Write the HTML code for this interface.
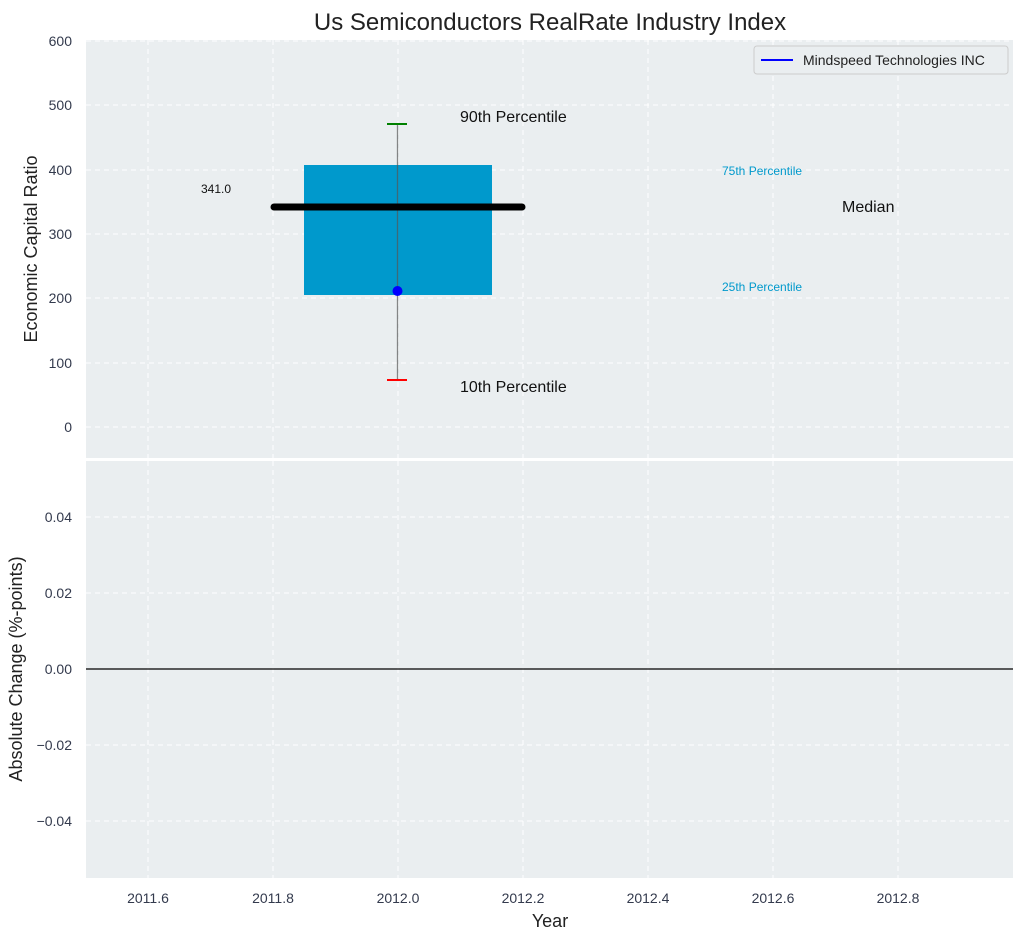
<!DOCTYPE html>
<html><head><meta charset="utf-8"><style>
body{margin:0;background:#fff;}
svg text{font-family:"Liberation Sans","DejaVu Sans",sans-serif;}
</style></head><body>
<svg width="1025" height="940" xmlns="http://www.w3.org/2000/svg">
<rect width="1025" height="940" fill="#fff"/>
<text x="550" y="30" font-size="24" text-anchor="middle" fill="#222">Us Semiconductors RealRate Industry Index</text>
<!-- top axes -->
<rect x="86" y="40" width="927" height="418" fill="#eaeef0"/>
<g stroke="#fff" stroke-dasharray="5,4" stroke-width="1">
<line x1="148" y1="40" x2="148" y2="458"/><line x1="273" y1="40" x2="273" y2="458"/><line x1="398" y1="40" x2="398" y2="458"/><line x1="523" y1="40" x2="523" y2="458"/><line x1="648" y1="40" x2="648" y2="458"/><line x1="773" y1="40" x2="773" y2="458"/><line x1="898" y1="40" x2="898" y2="458"/>
<line x1="86" y1="41" x2="1013" y2="41"/><line x1="86" y1="105" x2="1013" y2="105"/><line x1="86" y1="170" x2="1013" y2="170"/><line x1="86" y1="234" x2="1013" y2="234"/><line x1="86" y1="298" x2="1013" y2="298"/><line x1="86" y1="363" x2="1013" y2="363"/><line x1="86" y1="427" x2="1013" y2="427"/>
</g>
<g font-size="14" fill="#333a4d" text-anchor="end">
<text x="72" y="46">600</text><text x="72" y="110">500</text><text x="72" y="175">400</text><text x="72" y="239">300</text><text x="72" y="303">200</text><text x="72" y="368">100</text><text x="72" y="432">0</text>
</g>
<text transform="translate(37,249) rotate(-90)" font-size="18" text-anchor="middle" fill="#222">Economic Capital Ratio</text>
<rect x="304" y="165" width="188" height="130" fill="#0099cc"/>
<line x1="397.5" y1="124" x2="397.5" y2="380" stroke="#555" stroke-opacity="0.7" stroke-width="1.3"/>
<line x1="387" y1="124" x2="407" y2="124" stroke="green" stroke-width="2"/>
<line x1="387" y1="380" x2="407" y2="380" stroke="red" stroke-width="2"/>
<line x1="274" y1="207" x2="522" y2="207" stroke="#000" stroke-width="7" stroke-linecap="round"/>
<circle cx="397.5" cy="291" r="5" fill="#0000ff"/>
<text x="460" y="122" font-size="16" fill="#111">90th Percentile</text>
<text x="460" y="392" font-size="16" fill="#111">10th Percentile</text>
<text x="201" y="193" font-size="12" fill="#111">341.0</text>
<text x="722" y="175" font-size="12" fill="#0099cc">75th Percentile</text>
<text x="722" y="291" font-size="12" fill="#0099cc">25th Percentile</text>
<text x="842" y="212" font-size="16" fill="#111">Median</text>
<rect x="754" y="46" width="254" height="28" rx="3" fill="#eaeef0" stroke="#ccc"/>
<line x1="761" y1="60" x2="793" y2="60" stroke="#0000ff" stroke-width="2"/>
<text x="803" y="65" font-size="14" fill="#222">Mindspeed Technologies INC</text>
<!-- bottom axes -->
<rect x="86" y="461" width="927" height="417" fill="#eaeef0"/>
<g stroke="#fff" stroke-dasharray="5,4" stroke-width="1">
<line x1="148" y1="461" x2="148" y2="878"/><line x1="273" y1="461" x2="273" y2="878"/><line x1="398" y1="461" x2="398" y2="878"/><line x1="523" y1="461" x2="523" y2="878"/><line x1="648" y1="461" x2="648" y2="878"/><line x1="773" y1="461" x2="773" y2="878"/><line x1="898" y1="461" x2="898" y2="878"/>
<line x1="86" y1="517" x2="1013" y2="517"/><line x1="86" y1="593" x2="1013" y2="593"/><line x1="86" y1="745" x2="1013" y2="745"/><line x1="86" y1="821" x2="1013" y2="821"/>
</g>
<line x1="86" y1="669" x2="1013" y2="669" stroke="#000" stroke-width="1.2"/>
<g font-size="14" fill="#333a4d" text-anchor="end">
<text x="72" y="522">0.04</text><text x="72" y="598">0.02</text><text x="72" y="674">0.00</text><text x="72" y="750">−0.02</text><text x="72" y="826">−0.04</text>
</g>
<text transform="translate(22,669) rotate(-90)" font-size="18" text-anchor="middle" fill="#222">Absolute Change (%-points)</text>
<g font-size="14" fill="#333a4d" text-anchor="middle">
<text x="148" y="903">2011.6</text><text x="273" y="903">2011.8</text><text x="398" y="903">2012.0</text><text x="523" y="903">2012.2</text><text x="648" y="903">2012.4</text><text x="773" y="903">2012.6</text><text x="898" y="903">2012.8</text>
</g>
<text x="550" y="927" font-size="18" text-anchor="middle" fill="#222">Year</text>
</svg>
</body></html>
